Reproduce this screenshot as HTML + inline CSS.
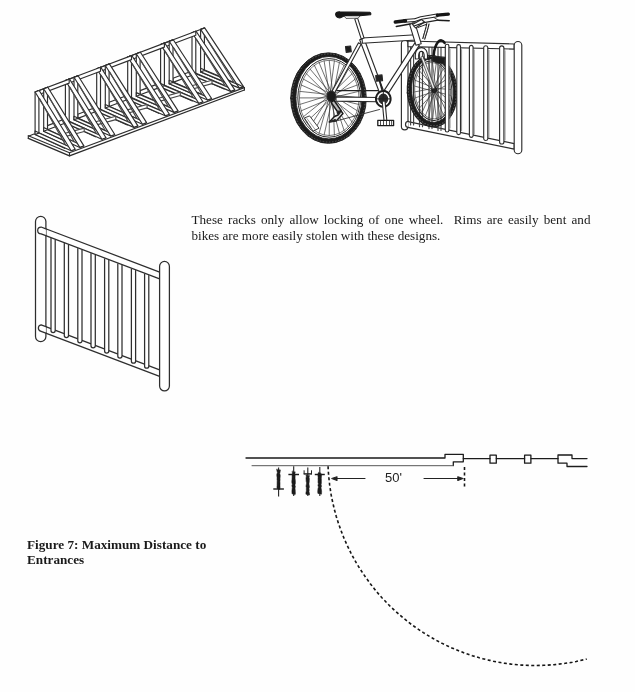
<!DOCTYPE html>
<html><head><meta charset="utf-8">
<style>
html,body{margin:0;padding:0;background:#fefefe;}
body{width:635px;height:692px;position:relative;overflow:hidden;font-family:"Liberation Serif",serif;color:#1a1a1a;}
.t{filter:blur(0.35px);position:absolute;margin:0;white-space:nowrap;font-size:13.15px;line-height:15px;}
#l1{left:191.5px;top:212px;width:399px;text-align:justify;text-align-last:justify;white-space:normal;}
#l2{left:191.5px;top:228px;}
#c1{left:27px;top:537px;font-weight:bold;font-size:13.2px;}
#c2{left:27px;top:551.5px;font-weight:bold;font-size:13.2px;}
#ft{left:385px;top:470px;font-family:"Liberation Sans",sans-serif;font-size:13px;color:#222;}
svg{position:absolute;left:0;top:0;}
</style></head><body>
<p class="t" id="l1">These racks only allow locking of one wheel.&nbsp; Rims are easily bent and</p>
<p class="t" id="l2">bikes are more easily stolen with these designs.</p>
<p class="t" id="c1">Figure 7: Maximum Distance to</p>
<p class="t" id="c2">Entrances</p>
<p class="t" id="ft">50'</p>
<svg width="635" height="692" viewBox="0 0 635 692" fill="none" stroke="#333" stroke-width="1" stroke-linecap="round" stroke-linejoin="round">
<defs><filter id="soft" x="0" y="0" width="635" height="692" filterUnits="userSpaceOnUse"><feGaussianBlur stdDeviation="0.42"/></filter></defs>
<g filter="url(#soft)">
<g stroke="#1c1c1c" stroke-width="1.3">
<path d="M246 458 H445 V454.3 H463.3 V461.8 H453.3 V465.5"/>
<path d="M463.3 458.6 H490 M496.3 458.6 H524.6 M531 458.6 H558"/>
<rect x="490" y="455.2" width="6.3" height="8"/>
<rect x="524.6" y="455.2" width="6.3" height="8"/>
<path d="M572 458.6 V455 H558 V463.2 H567 V466.5 H587 M572 458.6 H587"/>
</g>
<line x1="252.0" y1="465.7" x2="453.0" y2="465.7" stroke="#555" stroke-width="1"/>
<g stroke="#222" stroke-width="1.1">
<line x1="334.0" y1="478.5" x2="365.0" y2="478.5"/>
<line x1="424.0" y1="478.5" x2="461.0" y2="478.5"/>
<path d="M331.8 478.6 L337 476.8 V480.4 Z" fill="#222"/>
<path d="M463 478.6 L457.8 476.8 V480.4 Z" fill="#222"/>
</g>
<line x1="464.5" y1="467.0" x2="464.5" y2="489.0" stroke="#151515" stroke-width="1.6" stroke-dasharray="3 2.5" stroke-linecap="butt"/>
<path d="M328.1 466.3 L328.2 469.9 L328.5 473.6 L328.8 477.2 L329.2 480.8 L329.6 484.4 L330.1 488.0 L330.6 491.5 L331.2 495.1 L331.9 498.7 L332.7 502.2 L333.5 505.7 L334.3 509.3 L335.3 512.8 L336.2 516.2 L337.3 519.7 L338.4 523.2 L339.6 526.6 L340.8 530.0 L342.1 533.4 L343.4 536.7 L344.8 540.1 L346.3 543.4 L347.8 546.7 L349.4 549.9 L351.0 553.2 L352.7 556.4 L354.4 559.5 L356.2 562.7 L358.1 565.8 L360.0 568.9 L362.0 571.9 L364.0 574.9 L366.1 577.9 L368.2 580.8 L370.3 583.7 L372.6 586.6 L374.8 589.4 L377.1 592.2 L379.5 595.0 L381.9 597.7 L384.4 600.3 L386.9 602.9 L389.4 605.5 L392.0 608.0 L394.7 610.5 L397.4 612.9 L400.1 615.3 L402.9 617.7 L405.7 619.9 L408.5 622.2 L411.4 624.4 L414.3 626.5 L417.3 628.6 L420.3 630.6 L423.3 632.6 L426.4 634.5 L429.5 636.4 L432.6 638.2 L435.8 640.0 L438.9 641.7 L442.2 643.4 L445.4 645.0 L448.7 646.5 L452.0 648.0 L455.3 649.4 L458.7 650.8 L462.1 652.1 L465.5 653.4 L468.9 654.5 L472.3 655.7 L475.8 656.7 L479.3 657.8 L482.7 658.7 L486.3 659.6 L489.8 660.4 L493.3 661.2 L496.9 661.9 L500.4 662.5 L504.0 663.1 L507.6 663.6 L511.2 664.1 L514.8 664.5 L518.4 664.8 L522.0 665.1 L525.6 665.3 L529.2 665.4 L532.9 665.5 L536.5 665.5 L540.1 665.4 L543.7 665.3 L547.3 665.2 L551.0 664.9 L554.6 664.6 L558.2 664.2 L561.8 663.8 L565.4 663.3 L568.9 662.8 L572.5 662.2 L576.1 661.5 L579.6 660.7 L583.1 659.9 L586.7 659.1" stroke="#151515" stroke-width="1.6" stroke-dasharray="3 2.5" stroke-linecap="butt"/>
<line x1="278.6" y1="467.6" x2="278.6" y2="496.6" stroke="#222" stroke-width="1.1" stroke-linecap="butt"/>
<path d="M276.6 469.5 L277.0 471.1 L277.4 472.7 L276.8 474.3 L276.8 475.9 L277.1 477.5 L277.0 479.1 L277.2 480.7 L277.1 482.3 L277.1 483.9 L277.1 485.5 L276.9 487.1 L277.3 488.7 L279.7 489.5 L280.1 487.9 L280.0 486.3 L280.0 484.7 L280.0 483.1 L279.9 481.5 L280.1 479.9 L280.0 478.3 L280.2 476.7 L280.2 475.1 L279.7 473.5 L280.1 471.9 L280.4 470.3Z" fill="#1a1a1a" stroke="#1a1a1a" stroke-width="0.5"/>
<line x1="273.3" y1="489.0" x2="283.9" y2="489.0" stroke="#1a1a1a" stroke-width="1.4" stroke-linecap="butt"/>
<line x1="293.7" y1="466.3" x2="293.7" y2="496.0" stroke="#222" stroke-width="1.1" stroke-linecap="butt"/>
<path d="M292.1 471.4 L292.4 473.0 L292.0 474.6 L292.1 476.2 L292.1 477.8 L292.0 479.4 L291.8 481.0 L291.8 482.6 L292.3 484.2 L291.8 485.8 L292.3 487.4 L292.1 489.0 L291.9 490.6 L291.9 492.2 L292.0 493.8 L295.2 494.6 L295.4 493.0 L295.3 491.4 L295.2 489.8 L295.0 488.2 L295.4 486.6 L294.9 485.0 L295.4 483.4 L295.4 481.8 L295.3 480.2 L295.1 478.6 L295.1 477.0 L295.2 475.4 L294.9 473.8 L295.2 472.2Z" fill="#1a1a1a" stroke="#1a1a1a" stroke-width="0.5"/>
<line x1="288.4" y1="474.5" x2="299.0" y2="474.5" stroke="#1a1a1a" stroke-width="1.4" stroke-linecap="butt"/>
<line x1="307.8" y1="467.6" x2="307.8" y2="496.0" stroke="#222" stroke-width="1.1" stroke-linecap="butt"/>
<path d="M306.0 475.0 L306.3 476.6 L306.0 478.2 L306.1 479.8 L306.2 481.4 L306.6 483.0 L306.3 484.6 L306.0 486.2 L306.4 487.8 L306.3 489.4 L306.4 491.0 L305.9 492.6 L305.9 494.2 L309.5 495.0 L309.5 493.4 L309.0 491.8 L309.2 490.2 L309.0 488.6 L309.4 487.0 L309.2 485.4 L308.9 483.8 L309.2 482.2 L309.3 480.6 L309.4 479.0 L309.1 477.4 L309.4 475.8Z" fill="#1a1a1a" stroke="#1a1a1a" stroke-width="0.5"/>
<line x1="303.7" y1="473.9" x2="311.9" y2="473.9" stroke="#1a1a1a" stroke-width="1.4" stroke-linecap="butt"/>
<line x1="304.1" y1="473.9" x2="304.1" y2="470.7" stroke="#222" stroke-width="1"/>
<line x1="311.5" y1="473.9" x2="311.5" y2="470.7" stroke="#222" stroke-width="1"/>
<line x1="319.8" y1="467.0" x2="319.8" y2="496.0" stroke="#222" stroke-width="1.1" stroke-linecap="butt"/>
<path d="M318.4 472.6 L317.8 474.2 L317.9 475.8 L318.1 477.4 L318.0 479.0 L318.1 480.6 L318.0 482.2 L318.4 483.8 L317.9 485.4 L318.5 487.0 L318.0 488.6 L317.8 490.2 L317.7 491.8 L317.9 493.4 L321.5 494.2 L321.6 492.6 L321.6 491.0 L321.4 489.4 L321.0 487.8 L321.5 486.2 L321.1 484.6 L321.4 483.0 L321.4 481.4 L321.4 479.8 L321.3 478.2 L321.5 476.6 L321.6 475.0 L321.0 473.4Z" fill="#1a1a1a" stroke="#1a1a1a" stroke-width="0.5"/>
<line x1="314.8" y1="474.5" x2="324.8" y2="474.5" stroke="#1a1a1a" stroke-width="1.4" stroke-linecap="butt"/>
<g stroke="#2e2e2e" stroke-width="1.25">
<path d="M41.1 324.8 L159.6 369.9 M41.1 331.3 L159.6 376.4"/>
<path d="M41.5 324.8 A3.3 3.3 0 0 0 41.5 331.3"/>
<path d="M51 238.4 V330.6 A2.1 2 0 0 0 55.2 330.6 V239.9" fill="#fff"/>
<path d="M64.3 243.4 V335.6 A2.1 2 0 0 0 68.5 335.6 V244.9" fill="#fff"/>
<path d="M77.8 248.6 V340.8 A2.1 2 0 0 0 82 340.8 V250.1" fill="#fff"/>
<path d="M91 253.6 V345.8 A2.1 2 0 0 0 95.3 345.8 V255.1" fill="#fff"/>
<path d="M104.6 258.8 V351.0 A2.1 2 0 0 0 108.8 351.0 V260.3" fill="#fff"/>
<path d="M117.8 263.8 V356.0 A2.1 2 0 0 0 122 356.0 V265.3" fill="#fff"/>
<path d="M131.4 269.0 V361.2 A2.1 2 0 0 0 135.6 361.2 V270.5" fill="#fff"/>
<path d="M144.6 274.0 V366.2 A2.1 2 0 0 0 148.8 366.2 V275.5" fill="#fff"/>
<path d="M41.1 227 L159.6 272.1 L159.6 278.9 L41.1 233.8 A3.4 3.4 0 0 1 41.1 227Z" fill="#fff"/>
<path d="M35.5 336.5 V221.5 A5.199999999999999 5.199999999999999 0 0 1 45.9 221.5 V336.5 A5.199999999999999 5.199999999999999 0 0 1 35.5 336.5Z" fill="#fff"/>
<path d="M45.9 228.8 L41.1 227 A3.4 3.4 0 0 0 41.1 233.8 L45.9 235.6" fill="#fff"/>
<path d="M45.9 326.6 L41.1 324.8 A3.3 3.3 0 0 0 41.1 331.3 L45.9 333.1" fill="#fff"/>
<path d="M159.6 386.1 V266.3 A4.900000000000006 4.900000000000006 0 0 1 169.4 266.3 V386.1 A4.900000000000006 4.900000000000006 0 0 1 159.6 386.1Z" fill="#fff"/>
</g>
<g stroke="#2e2e2e" stroke-width="1.15" fill="#fff">
<path d="M28.3 135.8 L69.5 152.8 L244.4 87.6 L205 70 Z" stroke="none"/>
<path d="M200.6 29.4 L200.6 71.9 L204.4 70.5 L204.4 28.0Z"/>
<path d="M200.6 68.3 L232.9 82.1 L232.9 85.7 L200.6 71.9Z"/>
<path d="M200.6 71.9 L239.4 88.1 L243.2 86.7 L204.4 70.5Z"/>
<path d="M200.6 29.4 L239.4 88.1 L243.5 86.6 L204.7 27.9Z"/>
<path d="M205.0 36.0 L233.8 82.3" fill="none" stroke="#4a4a4a"/>
<path d="M192.0 32.7 L204.4 28.0" fill="none"/>
<path d="M192.0 32.7 L192.0 75.2 L195.8 73.8 L195.8 31.3Z"/>
<path d="M192.0 71.6 L224.2 85.4 L224.2 89.0 L192.0 75.2Z"/>
<path d="M192.0 75.2 L230.7 91.4 L234.5 90.0 L195.8 73.8Z"/>
<path d="M192.0 32.7 L230.7 91.4 L234.8 89.9 L196.1 31.2Z"/>
<path d="M196.4 39.3 L225.1 85.6" fill="none" stroke="#4a4a4a"/>
<path d="M162.6 43.8 L195.8 31.3 L195.8 35.3 L162.6 47.8Z"/>
<path d="M173.0 78.2 L192.0 71.0 L192.0 75.2 L173.0 82.4Z"/>
<path d="M190.0 86.3 L212.0 80.2 L212.0 83.6 L190.0 89.7Z" stroke="#4a4a4a"/>
<path d="M169.2 41.3 L169.2 83.8 L173.0 82.4 L173.0 39.9Z"/>
<path d="M169.2 80.2 L201.0 94.0 L201.0 97.6 L169.2 83.8Z"/>
<path d="M169.2 83.8 L207.5 100.0 L211.3 98.6 L173.0 82.4Z"/>
<path d="M169.2 41.3 L207.5 100.0 L211.6 98.5 L173.3 39.8Z"/>
<path d="M173.6 47.9 L201.9 94.2" fill="none" stroke="#4a4a4a"/>
<path d="M160.6 44.6 L173.0 39.9" fill="none"/>
<path d="M160.6 44.6 L160.6 87.1 L164.4 85.6 L164.4 43.1Z"/>
<path d="M160.6 83.5 L192.3 97.3 L192.3 100.9 L160.6 87.1Z"/>
<path d="M160.6 87.1 L198.8 103.3 L202.6 101.8 L164.4 85.6Z"/>
<path d="M160.6 44.6 L198.8 103.3 L202.9 101.7 L164.7 43.0Z"/>
<path d="M165.0 51.1 L193.2 97.5" fill="none" stroke="#4a4a4a"/>
<path d="M129.7 56.2 L164.4 43.1 L164.4 47.1 L129.7 60.2Z"/>
<path d="M140.1 90.6 L160.6 82.9 L160.6 87.1 L140.1 94.8Z"/>
<path d="M156.8 98.7 L180.3 92.1 L180.3 95.5 L156.8 102.1Z" stroke="#4a4a4a"/>
<path d="M136.3 53.7 L136.3 96.2 L140.1 94.8 L140.1 52.3Z"/>
<path d="M136.3 92.6 L167.5 106.4 L167.5 110.0 L136.3 96.2Z"/>
<path d="M136.3 96.2 L174.0 112.4 L177.8 111.0 L140.1 94.8Z"/>
<path d="M136.3 53.7 L174.0 112.4 L178.1 110.9 L140.4 52.2Z"/>
<path d="M140.7 60.3 L168.4 106.6" fill="none" stroke="#4a4a4a"/>
<path d="M127.7 57.0 L140.1 52.3" fill="none"/>
<path d="M127.7 57.0 L127.7 99.5 L131.5 98.1 L131.5 55.6Z"/>
<path d="M127.7 95.9 L158.8 109.7 L158.8 113.3 L127.7 99.5Z"/>
<path d="M127.7 99.5 L165.3 115.7 L169.1 114.3 L131.5 98.1Z"/>
<path d="M127.7 57.0 L165.3 115.7 L169.4 114.2 L131.8 55.5Z"/>
<path d="M132.1 63.6 L159.7 109.9" fill="none" stroke="#4a4a4a"/>
<path d="M98.7 68.0 L131.5 55.6 L131.5 59.6 L98.7 72.0Z"/>
<path d="M109.1 102.3 L127.7 95.3 L127.7 99.5 L109.1 106.5Z"/>
<path d="M125.5 110.4 L147.1 104.5 L147.1 107.9 L125.5 113.8Z" stroke="#4a4a4a"/>
<path d="M105.3 65.5 L105.3 108.0 L109.1 106.5 L109.1 64.0Z"/>
<path d="M105.3 104.4 L136.0 118.2 L136.0 121.8 L105.3 108.0Z"/>
<path d="M105.3 108.0 L142.5 124.2 L146.3 122.7 L109.1 106.5Z"/>
<path d="M105.3 65.5 L142.5 124.2 L146.6 122.6 L109.4 63.9Z"/>
<path d="M109.7 72.0 L136.9 118.4" fill="none" stroke="#4a4a4a"/>
<path d="M96.7 68.7 L109.1 64.0" fill="none"/>
<path d="M96.7 68.7 L96.7 111.2 L100.5 109.8 L100.5 67.3Z"/>
<path d="M96.7 107.6 L127.3 121.4 L127.3 125.0 L96.7 111.2Z"/>
<path d="M96.7 111.2 L133.8 127.4 L137.6 126.0 L100.5 109.8Z"/>
<path d="M96.7 68.7 L133.8 127.4 L137.9 125.9 L100.8 67.2Z"/>
<path d="M101.1 75.3 L128.2 121.6" fill="none" stroke="#4a4a4a"/>
<path d="M67.4 79.8 L100.5 67.3 L100.5 71.3 L67.4 83.8Z"/>
<path d="M77.8 114.2 L96.7 107.0 L96.7 111.2 L77.8 118.4Z"/>
<path d="M93.9 122.2 L115.8 116.2 L115.8 119.6 L93.9 125.6Z" stroke="#4a4a4a"/>
<path d="M74.0 77.3 L74.0 119.8 L77.8 118.4 L77.8 75.9Z"/>
<path d="M74.0 116.2 L104.2 130.0 L104.2 133.6 L74.0 119.8Z"/>
<path d="M74.0 119.8 L110.7 136.0 L114.5 134.6 L77.8 118.4Z"/>
<path d="M74.0 77.3 L110.7 136.0 L114.8 134.5 L78.1 75.8Z"/>
<path d="M78.4 83.9 L105.1 130.2" fill="none" stroke="#4a4a4a"/>
<path d="M65.4 80.5 L77.8 75.9" fill="none"/>
<path d="M65.4 80.5 L65.4 123.0 L69.2 121.6 L69.2 79.1Z"/>
<path d="M65.4 119.4 L95.4 133.2 L95.4 136.8 L65.4 123.0Z"/>
<path d="M65.4 123.0 L101.9 139.2 L105.7 137.8 L69.2 121.6Z"/>
<path d="M65.4 80.5 L101.9 139.2 L106.0 137.7 L69.5 79.0Z"/>
<path d="M69.8 87.1 L96.3 133.4" fill="none" stroke="#4a4a4a"/>
<path d="M37.1 91.2 L69.2 79.1 L69.2 83.1 L37.1 95.2Z"/>
<path d="M47.5 125.6 L65.4 118.8 L65.4 123.0 L47.5 129.8Z"/>
<path d="M63.3 133.7 L84.2 128.1 L84.2 131.5 L63.3 137.1Z" stroke="#4a4a4a"/>
<path d="M43.7 88.7 L43.7 131.2 L47.5 129.8 L47.5 87.3Z"/>
<path d="M43.7 127.6 L73.3 141.4 L73.3 145.0 L43.7 131.2Z"/>
<path d="M43.7 131.2 L79.8 147.4 L83.6 146.0 L47.5 129.8Z"/>
<path d="M43.7 88.7 L79.8 147.4 L83.9 145.9 L47.8 87.2Z"/>
<path d="M48.1 95.3 L74.2 141.6" fill="none" stroke="#4a4a4a"/>
<path d="M35.1 92.0 L47.5 87.3" fill="none"/>
<path d="M35.1 92.0 L35.1 134.5 L38.9 133.1 L38.9 90.6Z"/>
<path d="M35.1 130.9 L64.6 144.7 L64.6 148.3 L35.1 134.5Z"/>
<path d="M35.1 134.5 L71.1 150.7 L74.9 149.3 L38.9 133.1Z"/>
<path d="M35.1 92.0 L71.1 150.7 L75.2 149.2 L39.2 90.5Z"/>
<path d="M39.5 98.6 L65.5 144.9" fill="none" stroke="#4a4a4a"/>
<path d="M28.3 135.8 L69.5 152.8 L244.4 87.6" fill="none"/>
<path d="M34 134 L29 136" fill="none"/>
<path d="M28.3 138.3 L69.5 155.8 L244.4 90" stroke="#2a2a2a" stroke-width="1.3" fill="none"/>
<path d="M28.3 135.8 V138.3 M244.4 87.6 V90 M69.5 152.8 V155.8" fill="none"/>
<path d="M237 83.8 L244.4 87.6" fill="none"/>
</g>
<g stroke="#2e2e2e" stroke-width="1.15">
<path d="M401.4 43.6 V126.6 A3.3 3.3 0 0 0 408 126.6 V43.6 A3.3 3.3 0 0 0 401.4 43.6Z" fill="#fff"/>
<path d="M408 121.6 L514.2 143.6 V149.1 L408 127.4Z" fill="#fff"/>
<path d="M408.5 121.4 A3 3 0 0 0 408.5 127.4" fill="#fff"/>
<path d="M410.6 46.7 V124.9 M413.6 46.7 V124.9" stroke="#444"/>
<path d="M419.5 46.9 V126.7 M422.5 46.9 V126.7" stroke="#444"/>
<path d="M429 47.2 V128.6 M432 47.2 V128.6" stroke="#444"/>
<path d="M438 47.5 V130.4 M441 47.5 V130.4" stroke="#444"/>
</g>
<g stroke="#1c1c1c" stroke-width="0.9">
<path d="M407.2 91.2 A25.0 35.9 0 1 0 457.2 91.2 A25.0 35.9 0 1 0 407.2 91.2Z M411.6 90.7 A20.9 31.7 0 1 0 453.4 90.7 A20.9 31.7 0 1 0 411.6 90.7Z" fill-rule="evenodd" transform="rotate(-4 432.2 91.2)" fill="#1b1b1b"/>
<ellipse cx="432.3" cy="91.1" rx="23.8" ry="34.7" transform="rotate(-4 432.3 91.1)" stroke="#5a5a5a" stroke-width="1.0" stroke-dasharray="0.8 2.3"/>
<ellipse cx="432.6" cy="90.7" rx="19.3" ry="29.8" transform="rotate(-4 432.6 90.7)" stroke="#2a2a2a" stroke-width="1"/>
<ellipse cx="432.6" cy="90.7" rx="17.9" ry="28.2" transform="rotate(-4 432.6 90.7)" stroke="#444" stroke-width="0.7"/>
<path d="M434.5 88.2 L450.5 89.5 M434.1 91.4 L450.5 95.3 M435.1 88.5 L449.7 101.0 M433.5 91.2 L448.2 106.2 M435.6 88.9 L446.0 110.8 M433.0 90.8 L443.2 114.4 M435.8 89.6 L440.0 117.1 M432.7 90.2 L436.4 118.5 M435.7 90.2 L432.7 118.8 M432.6 89.6 L429.0 117.8 M435.4 90.8 L425.4 115.7 M432.8 88.9 L422.1 112.4 M434.9 91.2 L419.3 108.2 M433.3 88.5 L417.1 103.3 M434.3 91.4 L415.5 97.8 M433.9 88.2 L414.7 91.9 M433.6 91.3 L414.7 86.1 M434.6 88.2 L415.5 80.4 M433.1 90.9 L417.0 75.2 M435.2 88.5 L419.2 70.6 M432.7 90.4 L422.0 67.0 M435.6 89.1 L425.2 64.3 M432.6 89.7 L428.8 62.9 M435.8 89.7 L432.5 62.6 M432.8 89.1 L436.2 63.6 M435.7 90.4 L439.8 65.7 M433.2 88.5 L443.1 69.0 M435.3 90.9 L445.9 73.2 M433.8 88.2 L448.1 78.1 M434.8 91.3 L449.7 83.6 " stroke="#333" stroke-width="0.7"/>
<ellipse cx="434.2" cy="89.8" rx="2.4" ry="3.0" fill="#222"/>
</g>
<g stroke="#2e2e2e" stroke-width="1.15">
<path d="M408 41 L514.2 44 V49.1 L408 46.6Z" fill="#fff"/>
<path d="M445.3 130.2 V46.1 A1.8 1.8 0 0 1 448.9 46.1 V130.2 A1.8 1.8 0 0 1 445.3 130.2Z" fill="#fff"/>
<path d="M450.0 49.3 V128.0" stroke="#777" stroke-width="0.8"/>
<path d="M456.8 132.8 V46.5 A1.8 1.8 0 0 1 460.5 46.5 V132.8 A1.8 1.8 0 0 1 456.8 132.8Z" fill="#fff"/>
<path d="M461.6 49.6 V130.7" stroke="#777" stroke-width="0.8"/>
<path d="M469.4 135.9 V46.8 A1.9 1.9 0 0 1 473.1 46.8 V135.9 A1.9 1.9 0 0 1 469.4 135.9Z" fill="#fff"/>
<path d="M474.2 50.0 V133.8" stroke="#777" stroke-width="0.8"/>
<path d="M483.7 138.9 V47.4 A2.1 2.1 0 0 1 487.8 47.4 V138.9 A2.1 2.1 0 0 1 483.7 138.9Z" fill="#fff"/>
<path d="M488.9 50.4 V137.0" stroke="#777" stroke-width="0.8"/>
<path d="M499.6 141.9 V48.0 A2.1 2.1 0 0 1 503.9 48.0 V141.9 A2.1 2.1 0 0 1 499.6 141.9Z" fill="#fff"/>
<path d="M505.0 50.8 V140.0" stroke="#777" stroke-width="0.8"/>
<path d="M514.2 45.3 V149.9 A3.8 3.8 0 0 0 521.8 149.9 V45.3 A3.8 3.8 0 0 0 514.2 45.3Z" fill="#fff"/>
</g>
<g stroke="#1c1c1c" stroke-width="0.9">
<path d="M290.7 98.1 A37.8 45.2 0 1 0 366.3 98.1 A37.8 45.2 0 1 0 290.7 98.1Z M295.8 97.7 A33.1 41.2 0 1 0 362.0 97.7 A33.1 41.2 0 1 0 295.8 97.7Z" fill-rule="evenodd" fill="#1b1b1b"/>
<ellipse cx="328.6" cy="98.0" rx="36.6" ry="44.1" stroke="#5a5a5a" stroke-width="1.0" stroke-dasharray="0.8 2.3"/>
<ellipse cx="329.2" cy="97.9" rx="31.4" ry="39.3" stroke="#2a2a2a" stroke-width="1"/>
<ellipse cx="329.2" cy="97.9" rx="29.8" ry="37.6" stroke="#444" stroke-width="0.7"/>
<path d="M331.6 94.7 L359.1 97.9 M331.3 97.9 L358.6 104.4 M332.1 94.9 L357.3 110.8 M330.7 97.8 L355.1 116.7 M332.5 95.3 L352.1 122.1 M330.3 97.5 L348.4 126.7 M332.8 95.7 L344.1 130.5 M329.9 97.1 L339.4 133.2 M332.9 96.3 L334.4 134.9 M329.7 96.6 L329.2 135.5 M332.8 96.8 L324.1 134.9 M329.7 96.0 L319.1 133.2 M332.5 97.3 L314.4 130.5 M329.9 95.5 L310.1 126.7 M332.1 97.7 L306.4 122.1 M330.3 95.1 L303.4 116.7 M331.6 97.9 L301.2 110.8 M330.8 94.8 L299.9 104.4 M331.0 97.9 L299.4 97.9 M331.3 94.7 L299.9 91.4 M330.5 97.7 L301.2 85.0 M331.9 94.8 L303.4 79.1 M330.1 97.3 L306.4 73.7 M332.3 95.1 L310.1 69.1 M329.8 96.9 L314.3 65.3 M332.7 95.5 L319.1 62.6 M329.7 96.3 L324.1 60.9 M332.9 96.0 L329.2 60.3 M329.8 95.8 L334.4 60.9 M332.9 96.6 L339.4 62.6 M330.1 95.3 L344.1 65.3 M332.7 97.1 L348.4 69.1 M330.5 94.9 L352.1 73.7 M332.3 97.5 L355.1 79.1 M331.0 94.7 L357.3 85.0 M331.8 97.8 L358.6 91.4 " stroke="#333" stroke-width="0.7"/>
<path d="M304.8 117.8 L309.6 115.9 L319 128.2 L313.4 131Z" fill="#fff" stroke="#2a2a2a" stroke-width="0.9"/>
<path d="M307 118.6 L315.5 130" stroke="#555" stroke-width="0.6"/>
</g>
<g stroke="#2a2a2a" stroke-width="1.1">
<path d="M337 90.6 L383 90.6" stroke="#222" stroke-width="1.4" fill="none"/>
<path d="M336.0 101.1 L378.0 101.7 L378.0 97.5 L336.0 96.9Z" fill="#fff"/>
<path d="M358.5 42.8 L331.5 92.3 L334.1 93.7 L361.1 44.2Z" fill="#fff"/>
<path d="M359.7 39.8 L379.5 92.8 L383.7 91.2 L363.9 38.2Z" fill="#fff"/>
<path d="M415.1 42.6 L384.4 90.1 L388.6 92.9 L419.3 45.4Z" fill="#fff"/>
<path d="M362.4 43.2 L416.2 40.0 L415.8 34.8 L362.0 38.0Z" fill="#fff"/>
<path d="M354.8 19.1 L361.2 38.9 L364.0 37.9 L357.6 18.1Z" fill="#fff"/>
<path d="M426.8 23.5 C425.4 30 424 34 422.8 38.5 M429 24 C427.4 31 426 35 424.6 39.5" stroke="#1c1c1c" stroke-width="1.15" fill="none" stroke-dasharray="2.5 0.8"/>
<path d="M409.6 24.3 L416.0 45.3 L421.2 43.7 L414.8 22.7Z" fill="#fff"/>
<path d="M412.5 24.5 L421.5 19.5 L424.5 22 L415.5 28Z" fill="#fff"/>
<path d="M420.9 57.4 L432.7 88.9 L434.9 88.1 L423.1 56.6Z" fill="#eee" stroke="#444" stroke-width="0.8"/>
<path d="M415.4 59 C414.4 50.5 418 47.6 421.4 47.6 C425.2 47.6 428.2 50.6 427.4 59.2 L424.2 58.8 C424.6 53.4 423.4 51.4 421.4 51.4 C419.4 51.4 418.2 53.4 418.7 58.8Z" fill="#fff" stroke="#222"/>
<path d="M343.5 15 L346 18.4 L358 18.2 L361 15Z" fill="#fff" stroke="#333" stroke-width="0.8"/>
<path d="M335.6 14.2 Q336 11.6 340 11.9 L369.6 12.3 Q371.4 12.8 370.6 14.8 L360 15.8 L345 15.6 L340.5 17.8 Q336 18.2 335.6 14.2Z" fill="#181818" stroke="#181818"/>
<path d="M404.5 20.9 L414.5 20.2 L421 18 L437 15.3" stroke="#222" stroke-width="3.8" fill="none"/>
<path d="M404.5 20.9 L414.5 20.2 L421 18 L437 15.3" stroke="#fff" stroke-width="1.7" fill="none"/>
<path d="M395.4 22 L405.4 20.7" stroke="#141414" stroke-width="3.6" fill="none" stroke-linecap="round"/>
<path d="M437.4 15.1 L448.3 14.1" stroke="#141414" stroke-width="3.4" fill="none" stroke-linecap="round"/>
<path d="M414 26 L424 22.6 L438 20.2" stroke="#222" stroke-width="1.2" fill="none"/>
<path d="M418 27.5 L426 24.5" stroke="#222" stroke-width="1" fill="none"/>
<path d="M396.3 26.4 L410 24 M438 20.2 L449.2 20.8" stroke="#1c1c1c" stroke-width="1.5" fill="none"/>
<path d="M410 24 L414 22 M438 20 L434 17.5" stroke="#333" stroke-width="0.9" fill="none"/>
<path d="M345.5 46.6 L350.6 46 L351.3 51.8 L346.2 52.4Z" fill="#1c1c1c"/>
<ellipse cx="331.3" cy="96.3" rx="4.3" ry="5.2" fill="#1c1c1c"/>
<path d="M331.1 102.5 L338.1 112.5 L341.1 110.5 L334.1 100.5Z" fill="#bbb" stroke="#1c1c1c" stroke-width="1.4"/>
<path d="M340.8 110.5 L343 113.6 L336.5 120.8 L329.3 122 L334.5 116.5 L338 115Z" fill="#e8e8e8" stroke="#1c1c1c" stroke-width="1.5"/>
<path d="M329.3 122 L335 119.4 L336.5 120.8Z" fill="#1c1c1c"/>
<ellipse cx="338.6" cy="112.6" rx="1.5" ry="1.5" fill="#222"/>
<path d="M338 120.5 L379.5 109.5" stroke="#333" stroke-width="0.9" fill="none"/>
<ellipse cx="383.3" cy="98.9" rx="7.3" ry="7.9" fill="#fff" stroke="#1c1c1c" stroke-width="2" stroke-dasharray="1.6 0.7"/>
<ellipse cx="383.3" cy="98.9" rx="4.4" ry="4.8" fill="#2a2a2a"/>
<path d="M383.3 91.5 V106.5 M376.5 98.9 H390" stroke="#222" stroke-width="1"/>
<path d="M382.2 101.1 L384.0 120.5 L386.8 120.3 L385.0 100.9Z" fill="#fff"/>
<rect x="377.8" y="120.4" width="15.8" height="5.2" fill="#fff" stroke="#1c1c1c" stroke-width="1.3"/>
<path d="M380.5 120.6 V125.4 M383.5 120.6 V125.4 M386.5 120.6 V125.4 M389.5 120.6 V125.4 M391.6 120.6 V125.4" stroke="#222" stroke-width="0.8"/>
<path d="M375.7 75.6 L382 74.9 L382.6 80.6 L376.3 81.2Z" fill="#222"/>
<path d="M379.5 80.8 L382.4 91" stroke="#222" stroke-width="1.6"/>
<path d="M433.6 56 C434 49.5 436 44.5 438.2 41.8 C440.2 39.6 443 40 444.6 42.8" stroke="#161616" stroke-width="2.6" fill="none"/>
<path d="M432.4 56 L445.2 57.4 L444.6 63.2 L437 63 L432 60.4Z" fill="#1c1c1c"/>
</g>
</g>
</svg>
</body></html>
